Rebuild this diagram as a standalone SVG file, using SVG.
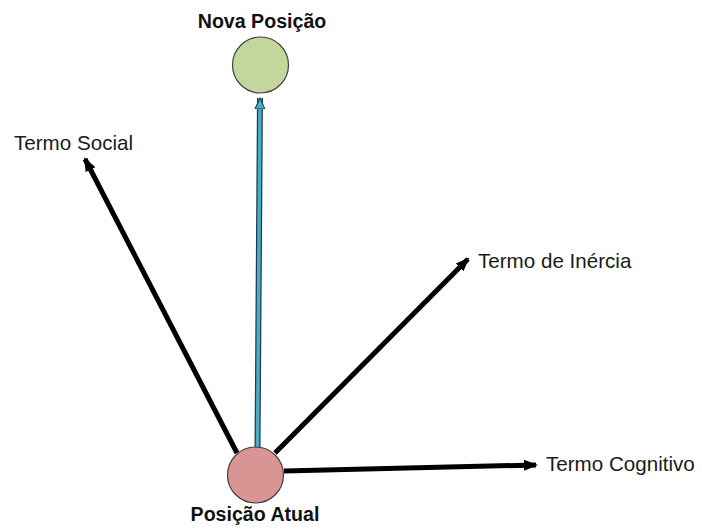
<svg xmlns="http://www.w3.org/2000/svg" width="702" height="530" viewBox="0 0 702 530">
<style>
.lbl{font-family:"Liberation Sans",Arial,sans-serif;font-size:20.6px;fill:#1a1a1a}
.bold{font-weight:bold;font-size:19.6px;fill:#111}
.vec{stroke:#000;stroke-width:5;fill:none;marker-end:url(#ah)}
</style>
<defs>
<marker id="ah" markerWidth="14" markerHeight="12" refX="12" refY="6" orient="auto" markerUnits="userSpaceOnUse">
<path d="M0,0.5 L14,6 L0,11.5 Z" fill="#000"/>
</marker>
<marker id="ahb" markerWidth="12" markerHeight="12" refX="11" refY="6" orient="auto" markerUnits="userSpaceOnUse">
<path d="M0,1 L11,6 L0,11 Z" fill="#4bacc6" stroke="#1f3b4d" stroke-width="1"/>
</marker>
</defs>
<g id="connectors">
<line class="vec" x1="237" y1="453" x2="85" y2="159"/>
<line class="vec" x1="275" y1="453" x2="468" y2="259"/>
<line class="vec" x1="284" y1="471" x2="536" y2="465"/>
<line x1="257.5" y1="448" x2="260" y2="98" stroke="#1f3b4d" stroke-width="6"/>
<line x1="257.5" y1="448" x2="260" y2="98" stroke="#4bacc6" stroke-width="3.5" marker-end="url(#ahb)"/>
</g>
<g id="nova">
<circle cx="260.5" cy="65" r="28" fill="#c3d69b" stroke="#404040" stroke-width="1.2"/>
<text class="lbl bold" x="262" y="28" text-anchor="middle">Nova Posição</text>
</g>
<g id="atual">
<circle cx="255.5" cy="475" r="28" fill="#d99594" stroke="#404040" stroke-width="1.2"/>
<text class="lbl bold" x="255" y="521" text-anchor="middle">Posição Atual</text>
</g>
<g id="social">
<text class="lbl" x="14" y="150">Termo Social</text>
</g>
<g id="inercia">
<text class="lbl" x="478" y="268">Termo de Inércia</text>
</g>
<g id="cognitivo">
<text class="lbl" x="546" y="471">Termo Cognitivo</text>
</g>
</svg>
